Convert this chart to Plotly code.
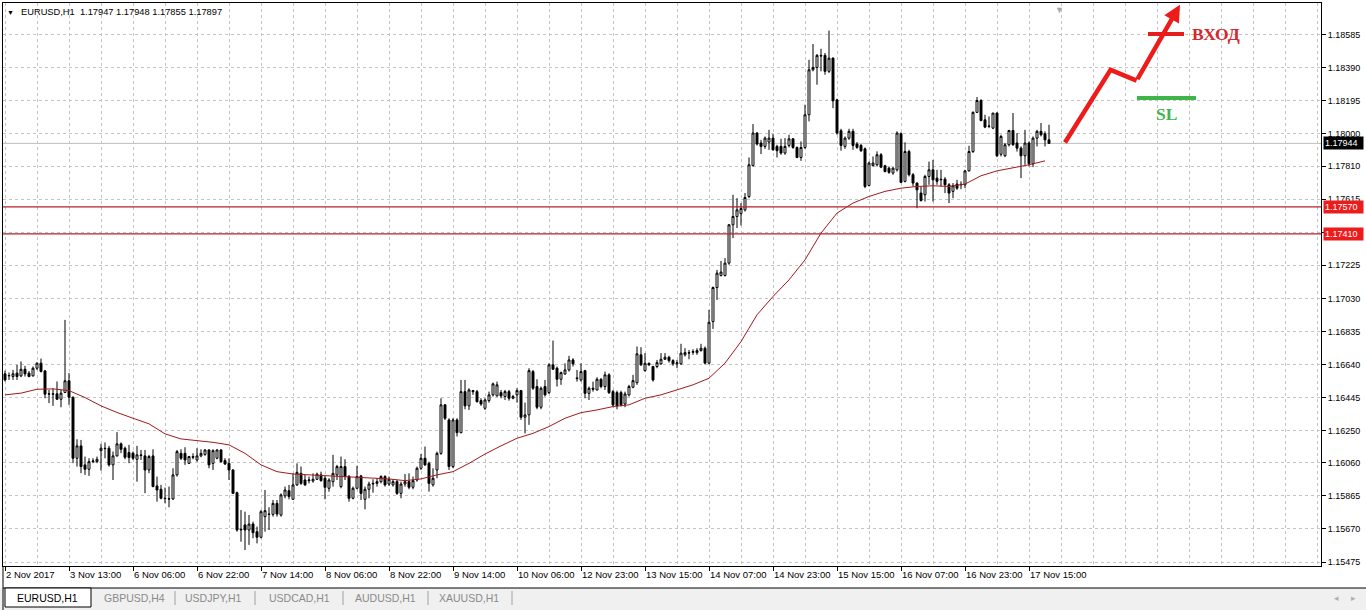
import plotly.graph_objects as go

# EURUSD H1, one entry per hourly bar (2 Nov 2017 21:00 ... 17 Nov 2017 20:00)
opens = [
    1.16585, 1.16573, 1.16569, 1.16589, 1.16573, 1.16612, 1.16589, 1.16573, 1.16618, 1.16648,
    1.16602, 1.16465, 1.16467, 1.16467, 1.16435, 1.16475, 1.16544, 1.16447, 1.16087, 1.16160,
    1.16048, 1.16022, 1.16067, 1.16067, 1.16132, 1.16146, 1.16146, 1.16048, 1.16101, 1.16172,
    1.16146, 1.16121, 1.16117, 1.16081, 1.16107, 1.16101, 1.16018, 1.16101, 1.15924, 1.15904,
    1.15851, 1.15849, 1.15847, 1.15989, 1.16116, 1.16116, 1.16057, 1.16097, 1.16077, 1.16101,
    1.16110, 1.16136, 1.16057, 1.16087, 1.16136, 1.16073, 1.16057, 1.16018, 1.15884, 1.15664,
    1.15694, 1.15664, 1.15699, 1.15654, 1.15621, 1.15743, 1.15758, 1.15756, 1.15821, 1.15752,
    1.15865, 1.15896, 1.15845, 1.15930, 1.15998, 1.15959, 1.15955, 1.15953, 1.15963, 1.15989,
    1.15969, 1.15910, 1.15949, 1.15989, 1.15920, 1.16038, 1.15979, 1.15851, 1.15910, 1.15983,
    1.15845, 1.15904, 1.15935, 1.15939, 1.15949, 1.15979, 1.15935, 1.15930, 1.15949, 1.15880,
    1.15935, 1.15949, 1.15916, 1.15959, 1.16028, 1.16087, 1.16057, 1.15930, 1.16018, 1.16116,
    1.16402, 1.16313, 1.16038, 1.16313, 1.16238, 1.16480, 1.16396, 1.16486, 1.16480, 1.16427,
    1.16382, 1.16427, 1.16461, 1.16455, 1.16474, 1.16451, 1.16480, 1.16441, 1.16461, 1.16486,
    1.16329, 1.16343, 1.16598, 1.16510, 1.16388, 1.16510, 1.16474, 1.16638, 1.16618, 1.16553,
    1.16584, 1.16608, 1.16667, 1.16561, 1.16549, 1.16604, 1.16470, 1.16500, 1.16490, 1.16553,
    1.16510, 1.16579, 1.16480, 1.16474, 1.16474, 1.16407, 1.16461, 1.16506, 1.16533, 1.16697,
    1.16604, 1.16647, 1.16628, 1.16628, 1.16644, 1.16671, 1.16683, 1.16663, 1.16644, 1.16644,
    1.16697, 1.16710, 1.16712, 1.16710, 1.16722, 1.16736, 1.16648, 1.16893, 1.17094, 1.17165,
    1.17165, 1.17238, 1.17464, 1.17513, 1.17530, 1.17552, 1.17631, 1.17813, 1.18005, 1.17946,
    1.17926, 1.17952, 1.17975, 1.17926, 1.17926, 1.17887, 1.17932, 1.17971, 1.17920, 1.17861,
    1.17920, 1.18113, 1.18378, 1.18392, 1.18463, 1.18463, 1.18369, 1.18447, 1.18201, 1.18019,
    1.17926, 1.17975, 1.18015, 1.17940, 1.17932, 1.17912, 1.17696, 1.17813, 1.17818, 1.17877,
    1.17812, 1.17798, 1.17769, 1.17788, 1.18001, 1.17720, 1.17896, 1.17759, 1.17710, 1.17651,
    1.17641, 1.17749, 1.17788, 1.17739, 1.17733, 1.17733, 1.17700, 1.17661, 1.17704, 1.17700,
    1.17700, 1.17782, 1.17896, 1.18127, 1.18197, 1.18083, 1.18044, 1.18034, 1.18123, 1.17880,
    1.17871, 1.17936, 1.18020, 1.17946, 1.17916, 1.17871, 1.17946, 1.17824, 1.17975, 1.18015,
    1.18001, 1.17965,
]
highs = [
    1.16604, 1.16593, 1.16608, 1.16638, 1.16658, 1.16632, 1.16601, 1.16628, 1.16652, 1.16675,
    1.16608, 1.16490, 1.16500, 1.16540, 1.16490, 1.16903, 1.16589, 1.16451, 1.16199, 1.16195,
    1.16097, 1.16087, 1.16087, 1.16097, 1.16172, 1.16180, 1.16160, 1.16127, 1.16241, 1.16180,
    1.16156, 1.16166, 1.16127, 1.16160, 1.16136, 1.16136, 1.16107, 1.16140, 1.15979, 1.15930,
    1.15914, 1.15920, 1.16028, 1.16136, 1.16140, 1.16152, 1.16101, 1.16116, 1.16146, 1.16140,
    1.16140, 1.16140, 1.16140, 1.16140, 1.16140, 1.16087, 1.16087, 1.16022, 1.15890, 1.15782,
    1.15772, 1.15752, 1.15713, 1.15684, 1.15782, 1.15900, 1.15798, 1.15841, 1.15841, 1.15880,
    1.15920, 1.15930, 1.15998, 1.16057, 1.16038, 1.15989, 1.15979, 1.15998, 1.16002, 1.16008,
    1.15983, 1.15969, 1.16107, 1.16048, 1.16097, 1.16081, 1.15989, 1.15920, 1.16042, 1.15989,
    1.15920, 1.15949, 1.15963, 1.15969, 1.15987, 1.15987, 1.15979, 1.15963, 1.15959, 1.15949,
    1.15994, 1.15998, 1.15979, 1.16038, 1.16112, 1.16156, 1.16067, 1.16028, 1.16126, 1.16441,
    1.16407, 1.16323, 1.16323, 1.16323, 1.16549, 1.16549, 1.16500, 1.16490, 1.16490, 1.16441,
    1.16441, 1.16480, 1.16533, 1.16539, 1.16490, 1.16490, 1.16490, 1.16461, 1.16500, 1.16490,
    1.16415, 1.16618, 1.16608, 1.16553, 1.16510, 1.16549, 1.16647, 1.16781, 1.16628, 1.16598,
    1.16647, 1.16691, 1.16677, 1.16608, 1.16647, 1.16608, 1.16510, 1.16539, 1.16565, 1.16559,
    1.16598, 1.16588, 1.16490, 1.16486, 1.16486, 1.16480, 1.16520, 1.16579, 1.16746, 1.16742,
    1.16707, 1.16651, 1.16632, 1.16667, 1.16707, 1.16707, 1.16691, 1.16671, 1.16667, 1.16762,
    1.16736, 1.16726, 1.16730, 1.16736, 1.16762, 1.16746, 1.16962, 1.17100, 1.17198, 1.17251,
    1.17267, 1.17468, 1.17641, 1.17621, 1.17592, 1.17651, 1.17861, 1.18058, 1.18011, 1.17965,
    1.17985, 1.18024, 1.17999, 1.17936, 1.17971, 1.17975, 1.17995, 1.17975, 1.17926, 1.17956,
    1.18172, 1.18437, 1.18530, 1.18471, 1.18502, 1.18477, 1.18609, 1.18451, 1.18207, 1.18030,
    1.17985, 1.18030, 1.18030, 1.17952, 1.17940, 1.17920, 1.17837, 1.17867, 1.17897, 1.17887,
    1.17818, 1.17808, 1.17804, 1.18015, 1.18009, 1.17950, 1.17906, 1.17769, 1.17714, 1.17690,
    1.17759, 1.17837, 1.17847, 1.17788, 1.17788, 1.17745, 1.17710, 1.17710, 1.17729, 1.17720,
    1.17788, 1.17930, 1.18133, 1.18217, 1.18205, 1.18113, 1.18103, 1.18123, 1.18127, 1.17995,
    1.17946, 1.18024, 1.18123, 1.18005, 1.17926, 1.18024, 1.17955, 1.17985, 1.18024, 1.18064,
    1.18015, 1.18054,
]
lows = [
    1.16540, 1.16549, 1.16549, 1.16549, 1.16565, 1.16569, 1.16565, 1.16569, 1.16608, 1.16593,
    1.16441, 1.16412, 1.16396, 1.16432, 1.16388, 1.16471, 1.16402, 1.16058, 1.16038, 1.15999,
    1.15989, 1.15983, 1.16058, 1.16058, 1.16014, 1.16087, 1.16038, 1.15959, 1.16097, 1.16117,
    1.16081, 1.16058, 1.16077, 1.15949, 1.16077, 1.15881, 1.15999, 1.15916, 1.15831, 1.15845,
    1.15822, 1.15798, 1.15841, 1.15979, 1.16077, 1.16048, 1.16053, 1.16081, 1.16067, 1.16093,
    1.16101, 1.16028, 1.16018, 1.16081, 1.16061, 1.16048, 1.15959, 1.15876, 1.15654, 1.15595,
    1.15546, 1.15576, 1.15615, 1.15585, 1.15615, 1.15654, 1.15664, 1.15743, 1.15743, 1.15743,
    1.15851, 1.15845, 1.15841, 1.15924, 1.15930, 1.15924, 1.15939, 1.15943, 1.15959, 1.15949,
    1.15845, 1.15890, 1.15920, 1.15959, 1.15910, 1.15959, 1.15831, 1.15845, 1.15904, 1.15841,
    1.15786, 1.15851, 1.15884, 1.15920, 1.15939, 1.15920, 1.15924, 1.15920, 1.15871, 1.15851,
    1.15920, 1.15904, 1.15904, 1.15949, 1.16018, 1.16042, 1.15890, 1.15920, 1.15969, 1.16107,
    1.16313, 1.16018, 1.16028, 1.16215, 1.16234, 1.16376, 1.16372, 1.16461, 1.16415, 1.16396,
    1.16372, 1.16415, 1.16451, 1.16451, 1.16441, 1.16431, 1.16427, 1.16435, 1.16415, 1.16313,
    1.16234, 1.16284, 1.16490, 1.16376, 1.16376, 1.16451, 1.16466, 1.16608, 1.16510, 1.16520,
    1.16579, 1.16598, 1.16628, 1.16539, 1.16539, 1.16441, 1.16431, 1.16480, 1.16486, 1.16500,
    1.16490, 1.16466, 1.16388, 1.16376, 1.16392, 1.16388, 1.16451, 1.16500, 1.16520, 1.16632,
    1.16598, 1.16632, 1.16539, 1.16618, 1.16638, 1.16667, 1.16651, 1.16632, 1.16618, 1.16638,
    1.16687, 1.16671, 1.16697, 1.16697, 1.16716, 1.16641, 1.16641, 1.16850, 1.17021, 1.17159,
    1.17159, 1.17228, 1.17385, 1.17445, 1.17460, 1.17542, 1.17621, 1.17808, 1.17932, 1.17881,
    1.17912, 1.17906, 1.17901, 1.17861, 1.17877, 1.17877, 1.17920, 1.17912, 1.17857, 1.17841,
    1.17912, 1.18074, 1.18369, 1.18290, 1.18369, 1.18349, 1.18359, 1.18152, 1.17995, 1.17901,
    1.17912, 1.17965, 1.17906, 1.17912, 1.17893, 1.17680, 1.17690, 1.17808, 1.17808, 1.17798,
    1.17773, 1.17765, 1.17759, 1.17778, 1.17710, 1.17714, 1.17749, 1.17690, 1.17562, 1.17601,
    1.17601, 1.17700, 1.17601, 1.17700, 1.17690, 1.17651, 1.17592, 1.17621, 1.17670, 1.17674,
    1.17680, 1.17778, 1.17887, 1.18123, 1.18074, 1.18034, 1.18034, 1.18028, 1.17863, 1.17867,
    1.17863, 1.17926, 1.17930, 1.17896, 1.17739, 1.17818, 1.17808, 1.17804, 1.17926, 1.17985,
    1.17926, 1.17942,
]
closes = [
    1.16549, 1.16575, 1.16585, 1.16569, 1.16612, 1.16585, 1.16569, 1.16618, 1.16648, 1.16599,
    1.16465, 1.16467, 1.16465, 1.16435, 1.16471, 1.16544, 1.16447, 1.16087, 1.16160, 1.16038,
    1.16022, 1.16067, 1.16071, 1.16081, 1.16146, 1.16144, 1.16048, 1.16101, 1.16172, 1.16140,
    1.16093, 1.16091, 1.16087, 1.16107, 1.16103, 1.16018, 1.16097, 1.15920, 1.15900, 1.15851,
    1.15849, 1.15847, 1.15989, 1.16126, 1.16087, 1.16077, 1.16097, 1.16093, 1.16101, 1.16116,
    1.16136, 1.16048, 1.16132, 1.16136, 1.16067, 1.16053, 1.16018, 1.15880, 1.15664, 1.15668,
    1.15664, 1.15699, 1.15648, 1.15621, 1.15772, 1.15778, 1.15756, 1.15821, 1.15758, 1.15871,
    1.15900, 1.15861, 1.15930, 1.16004, 1.15939, 1.15930, 1.15959, 1.15963, 1.15993, 1.15955,
    1.15916, 1.15959, 1.15998, 1.16038, 1.16038, 1.15979, 1.15851, 1.15910, 1.15979, 1.15880,
    1.15904, 1.15935, 1.15939, 1.15949, 1.15979, 1.15930, 1.15963, 1.15949, 1.15880, 1.15935,
    1.15949, 1.15916, 1.15955, 1.16028, 1.16087, 1.16048, 1.15939, 1.15969, 1.16116, 1.16402,
    1.16323, 1.16038, 1.16313, 1.16238, 1.16480, 1.16396, 1.16490, 1.16480, 1.16421, 1.16407,
    1.16431, 1.16461, 1.16526, 1.16520, 1.16455, 1.16480, 1.16441, 1.16451, 1.16486, 1.16329,
    1.16343, 1.16604, 1.16500, 1.16388, 1.16500, 1.16461, 1.16638, 1.16612, 1.16553, 1.16592,
    1.16608, 1.16667, 1.16644, 1.16557, 1.16598, 1.16470, 1.16500, 1.16494, 1.16553, 1.16510,
    1.16579, 1.16474, 1.16402, 1.16396, 1.16402, 1.16466, 1.16510, 1.16545, 1.16703, 1.16638,
    1.16647, 1.16638, 1.16549, 1.16651, 1.16671, 1.16683, 1.16663, 1.16644, 1.16650, 1.16707,
    1.16710, 1.16708, 1.16716, 1.16722, 1.16736, 1.16648, 1.16889, 1.17094, 1.17179, 1.17185,
    1.17238, 1.17464, 1.17513, 1.17552, 1.17560, 1.17625, 1.17818, 1.18005, 1.17940, 1.17926,
    1.17975, 1.17975, 1.17906, 1.17901, 1.17887, 1.17926, 1.17971, 1.17920, 1.17861, 1.17920,
    1.18113, 1.18378, 1.18392, 1.18463, 1.18460, 1.18369, 1.18447, 1.18195, 1.18005, 1.17932,
    1.17975, 1.18015, 1.17932, 1.17920, 1.17901, 1.17690, 1.17828, 1.17828, 1.17877, 1.17804,
    1.17778, 1.17773, 1.17798, 1.18005, 1.17714, 1.17896, 1.17759, 1.17710, 1.17670, 1.17607,
    1.17749, 1.17788, 1.17729, 1.17720, 1.17730, 1.17700, 1.17651, 1.17694, 1.17680, 1.17702,
    1.17782, 1.17896, 1.18127, 1.18197, 1.18079, 1.18040, 1.18046, 1.18123, 1.17871, 1.17985,
    1.17936, 1.18020, 1.17936, 1.17916, 1.17871, 1.17946, 1.17824, 1.17975, 1.18015, 1.17995,
    1.17965, 1.17944,
]

# moving average
ma_step = 4
ma_values = [
    1.16461, 1.16471, 1.16494, 1.16496, 1.16486, 1.16445, 1.16396, 1.16357, 1.16323, 1.16290,
    1.16231, 1.16201, 1.16191, 1.16181, 1.16166, 1.16116, 1.16048, 1.16008, 1.15994, 1.15989,
    1.15985, 1.15979, 1.15977, 1.15973, 1.15965, 1.15955, 1.15965, 1.15989, 1.16008, 1.16057,
    1.16112, 1.16160, 1.16205, 1.16234, 1.16274, 1.16323, 1.16356, 1.16372, 1.16392, 1.16402,
    1.16441, 1.16461, 1.16490, 1.16520, 1.16559, 1.16648, 1.16775, 1.16933, 1.17041, 1.17139,
    1.17257, 1.17415, 1.17533, 1.17592, 1.17631, 1.17661, 1.17680, 1.17690, 1.17694, 1.17690,
    1.17704, 1.17753, 1.17782, 1.17798, 1.17818, 1.17841,
]

# time scale: one label every 16 bars
label_step = 16
x_labels = [
    "2 Nov 2017", "3 Nov 13:00", "6 Nov 06:00", "6 Nov 22:00", "7 Nov 14:00",
    "8 Nov 06:00", "8 Nov 22:00", "9 Nov 14:00", "10 Nov 06:00", "12 Nov 23:00",
    "13 Nov 15:00", "14 Nov 07:00", "14 Nov 23:00", "15 Nov 15:00", "16 Nov 07:00",
    "16 Nov 23:00", "17 Nov 15:00",
]
y_labels = [
    "1.18585", "1.18390", "1.18195", "1.18000", "1.17810", "1.17615", "1.17420", "1.17225",
    "1.17030", "1.16835", "1.16640", "1.16445", "1.16250", "1.16060", "1.15865", "1.15670",
    "1.15475",
]
bid_price = 1.17944
level_prices = [1.17570, 1.17410]

# hand drawing on the right (bar index, price)
arrow_bars = [265.0, 276.4, 282.9, 293.75]
arrow_prices = [1.17949, 1.18378, 1.18314, 1.18762]
entry_bars = [285.75, 294.75]
entry_price = 1.18589
stop_bars = [283.0, 297.75]
stop_price = 1.18211

header = "EURUSD,H1  1.17947 1.17948 1.17855 1.17897"
tabs = ["EURUSD,H1", "GBPUSD,H4", "USDJPY,H1", "USDCAD,H1", "AUDUSD,H1", "XAUUSD,H1"]

W, H = 1366, 610
ML, MR, MT, MB = 3, 45, 3, 44
PW, PH = W - ML - MR, H - MT - MB
FONT = "Liberation Sans, Arial, sans-serif"
SERIF = "Liberation Serif, Times New Roman, serif"
GRID = "#c4c4c4"


def px(x):
    return (x - ML) / PW


def py(y):
    return (H - MB - y) / PH


bars = list(range(len(closes)))

fig = go.Figure()
fig.add_trace(go.Scatter(
    x=list(range(0, len(ma_values) * ma_step, ma_step)), y=ma_values,
    mode="lines", line=dict(color="#a3191c", width=1), hoverinfo="skip"))
fig.add_trace(go.Candlestick(
    x=bars, open=opens, high=highs, low=lows, close=closes,
    increasing=dict(line=dict(color="black", width=1), fillcolor="white"),
    decreasing=dict(line=dict(color="black", width=1), fillcolor="black"),
    whiskerwidth=0, hoverinfo="skip"))

# drawing: zig-zag arrow, entry and stop marks
fig.add_trace(go.Scatter(
    x=arrow_bars[:-1], y=arrow_prices[:-1], mode="lines",
    line=dict(color="#ee1b1b", width=4.5), hoverinfo="skip"))
fig.add_trace(go.Scatter(
    x=entry_bars, y=[entry_price] * 2, mode="lines",
    line=dict(color="#e41d1d", width=4), hoverinfo="skip"))
fig.add_trace(go.Scatter(
    x=stop_bars, y=[stop_price] * 2, mode="lines",
    line=dict(color="#3fb549", width=4), hoverinfo="skip"))


def label(x, y, text, size, color, xanchor="center", family=FONT):
    return dict(x=px(x), y=py(y), xref="paper", yref="paper", text=text, showarrow=False,
                xanchor=xanchor, yanchor="middle",
                font=dict(family=family, size=size, color=color))


annotations = [
    dict(x=arrow_bars[-1], y=arrow_prices[-1], ax=arrow_bars[-2], ay=arrow_prices[-2],
         xref="x", yref="y", axref="x", ayref="y", text="", showarrow=True,
         arrowhead=2, arrowsize=0.75, arrowwidth=4.5, arrowcolor="#ee1b1b"),
    dict(x=entry_bars[1], y=entry_price, xref="x", yref="y", text="<b>ВХОД</b>",
         showarrow=False, xanchor="left", yanchor="middle", xshift=6,
         font=dict(family=SERIF, size=17.5, color="#d2282e")),
    dict(x=(stop_bars[0] + stop_bars[1]) / 2, y=stop_price, xref="x", yref="y",
         text="<b>SL</b>", showarrow=False, xanchor="center", yanchor="middle", yshift=-16,
         font=dict(family=SERIF, size=17.5, color="#45b34d")),
    # header
    label(10, 12, "▼", 7, "black"),
    label(19, 12, header, 9.3, "black", xanchor="left"),
    # chart shift marker
    dict(x=len(closes) + 1.5, y=1, xref="x", yref="paper", xanchor="center", yanchor="top",
         text="▼", showarrow=False, font=dict(family=FONT, size=9, color="#a8a8a8")),
]

# price labels on the scale
for price, bg in [(bid_price, "black")] + [(p, "#ec1c1c") for p in level_prices]:
    annotations.append(dict(
        x=1, y=price, xref="paper", yref="y", xanchor="left", yanchor="middle", xshift=2,
        text=f"{price:.5f}", showarrow=False, bgcolor=bg, borderpad=1, width=37, align="left",
        font=dict(family=FONT, size=9, color="white")))

shapes = [
    dict(type="line", xref="paper", yref="y", x0=0, x1=1, y0=bid_price, y1=bid_price,
         line=dict(color="#bdbdbd", width=1), layer="between"),
]
for p in level_prices:
    shapes.append(dict(type="line", xref="paper", yref="y", x0=0, x1=1, y0=p, y1=p,
                       line=dict(color="#b5202a", width=1.2)))

# tab strip under the chart
shapes += [
    dict(type="rect", xref="paper", yref="paper", x0=px(0), x1=px(W), y0=py(H + 1), y1=py(588),
         fillcolor="#f0f0f0", line=dict(width=0), layer="below"),
    dict(type="line", xref="paper", yref="paper", x0=px(3), x1=px(W), y0=py(588), y1=py(588),
         line=dict(color="black", width=1)),
    dict(type="line", xref="paper", yref="paper", x0=px(3), x1=px(3), y0=py(566), y1=py(H),
         line=dict(color="black", width=1)),
    dict(type="rect", xref="paper", yref="paper", x0=px(5), x1=px(91), y0=py(607), y1=py(588),
         fillcolor="white", line=dict(color="black", width=1)),
]
tab_centers = [48, 134, 214, 299, 385, 469]
for i, (name, c) in enumerate(zip(tabs, tab_centers)):
    annotations.append(label(c, 598, name, 10.5, "black" if i == 0 else "#8a8a8a"))
for s in [175, 255, 343, 428, 512]:
    shapes.append(dict(type="line", xref="paper", yref="paper", x0=px(s), x1=px(s),
                       y0=py(605), y1=py(591), line=dict(color="#a0a0a0", width=1)))
annotations.append(label(1336, 598, "◂", 9, "#b0b0b0"))
annotations.append(label(1353, 598, "▸", 9, "#b0b0b0"))

fig.update_layout(
    width=W, height=H,
    margin=dict(l=ML, r=MR, t=MT, b=MB),
    paper_bgcolor="white", plot_bgcolor="white",
    showlegend=False, hovermode=False,
    annotations=annotations, shapes=shapes,
)
fig.update_xaxes(
    range=[-0.5, 329], rangeslider_visible=False, fixedrange=True,
    tickvals=[i * label_step for i in range(len(x_labels))], ticktext=x_labels,
    ticklabelposition="outside right", tickangle=0, ticks="outside", ticklen=4, tickcolor="black",
    tickfont=dict(family=FONT, size=9.5, color="black"),
    showgrid=True, gridcolor=GRID, griddash="3px,3px", gridwidth=1,
    minor=dict(dtick=8, tick0=0, showgrid=True, gridcolor=GRID, griddash="3px,3px", ticks=""),
    showline=True, linecolor="black", linewidth=1, mirror=True, zeroline=False,
)
fig.update_yaxes(
    range=[1.154516, 1.18772], side="right", fixedrange=True,
    tickvals=[float(t) for t in y_labels], ticktext=y_labels,
    ticks="outside", ticklen=4, tickcolor="black",
    tickfont=dict(family=FONT, size=9, color="black"),
    showgrid=True, gridcolor=GRID, griddash="3px,3px", gridwidth=1,
    showline=True, linecolor="black", linewidth=1, mirror=True, zeroline=False,
)

# the page gets the exact window size, without the browser's default body margin
fig.write_html("out.html", config={"displayModeBar": False},
               post_script="document.body.style.margin = '0';")
